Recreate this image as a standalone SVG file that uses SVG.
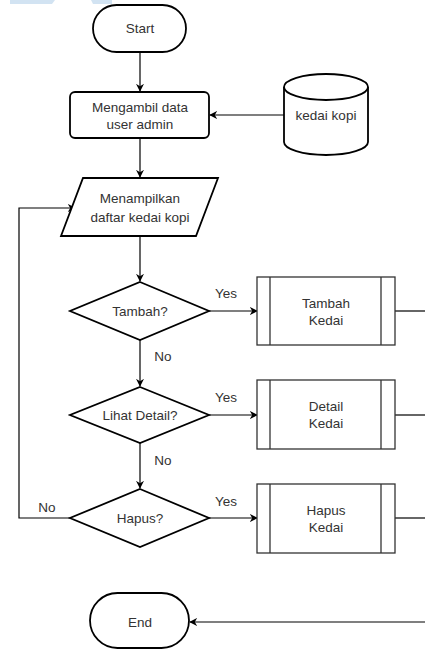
<svg xmlns="http://www.w3.org/2000/svg" width="425" height="649" viewBox="0 0 425 649">
<defs>
<style>
.sh{fill:#fff;stroke:#000;stroke-width:1.8}
.pr{fill:#fff;stroke:#333;stroke-width:1.3}
.ln{fill:none;stroke:#000;stroke-width:1.2}
text{font-family:"Liberation Sans",Arial,sans-serif;font-size:13.5px;fill:#333;text-anchor:middle}
</style>
<marker id="ah" viewBox="0 0 10 10" refX="9" refY="5" markerWidth="8" markerHeight="8" markerUnits="userSpaceOnUse" orient="auto">
<path d="M0,0 L10,5 L0,10 L3,5 Z" fill="#000"/>
</marker>
</defs>
<rect width="425" height="649" fill="#fff"/>
<g id="watermark">
<polygon points="10,0 55,0 52,4 10,4" fill="#d2e3f2"/>
<polygon points="91,0 112,0 112,4 93,4" fill="#d2e3f2"/>
</g>
<g id="connectors">
<line class="ln" x1="140" y1="52" x2="140" y2="91" marker-end="url(#ah)"/>
<line class="ln" x1="284" y1="115" x2="210" y2="115" marker-end="url(#ah)"/>
<line class="ln" x1="140" y1="138" x2="140" y2="177" marker-end="url(#ah)"/>
<line class="ln" x1="140" y1="236" x2="140" y2="281" marker-end="url(#ah)"/>
<line class="ln" x1="209" y1="311" x2="257" y2="311" marker-end="url(#ah)"/>
<line class="ln" x1="140" y1="340" x2="140" y2="386" marker-end="url(#ah)"/>
<line class="ln" x1="209" y1="415" x2="257" y2="415" marker-end="url(#ah)"/>
<line class="ln" x1="140" y1="443" x2="140" y2="488" marker-end="url(#ah)"/>
<line class="ln" x1="209" y1="518" x2="257" y2="518" marker-end="url(#ah)"/>
<polyline class="ln" points="70,518 19,518 19,208 75,208" marker-end="url(#ah)"/>
<line class="ln" x1="395" y1="311" x2="425" y2="311"/>
<line class="ln" x1="395" y1="415" x2="425" y2="415"/>
<line class="ln" x1="395" y1="518" x2="425" y2="518"/>
<line class="ln" x1="425" y1="622" x2="190" y2="622" marker-end="url(#ah)"/>
<text x="226" y="298">Yes</text>
<text x="163" y="361">No</text>
<text x="226" y="402">Yes</text>
<text x="163" y="465">No</text>
<text x="226" y="506">Yes</text>
<text x="47" y="512">No</text>
</g>
<g id="start">
<rect class="sh" x="93" y="5" width="93" height="47" rx="23.5"/>
<text x="140" y="33">Start</text>
</g>
<g id="mengambil">
<rect class="sh" x="70" y="92" width="139" height="46" rx="5"/>
<text x="140" y="112">Mengambil data</text>
<text x="140" y="129">user admin</text>
</g>
<g id="kedaikopi">
<path class="sh" d="M284,87 A42,13 0 0 1 368,87 L368,142 A42,13 0 0 1 284,142 Z"/>
<path class="sh" d="M284,87 A42,13 0 0 0 368,87" fill="none"/>
<text x="326" y="120">kedai kopi</text>
</g>
<g id="menampilkan">
<polygon class="sh" points="83,178 218,178 196,236 61,236"/>
<text x="140" y="203">Menampilkan</text>
<text x="140" y="222">daftar kedai kopi</text>
</g>
<g id="tambah">
<polygon class="sh" points="140,282 209,311 140,340 70,311"/>
<text x="140" y="316">Tambah?</text>
</g>
<g id="tambahkedai">
<rect class="pr" x="257" y="277" width="138" height="68"/>
<line class="pr" x1="270" y1="277" x2="270" y2="345"/>
<line class="pr" x1="381" y1="277" x2="381" y2="345"/>
<text x="326" y="308">Tambah</text>
<text x="326" y="325">Kedai</text>
</g>
<g id="lihatdetail">
<polygon class="sh" points="140,387 209,415 140,443 70,415"/>
<text x="140" y="420">Lihat Detail?</text>
</g>
<g id="detailkedai">
<rect class="pr" x="257" y="380" width="138" height="69"/>
<line class="pr" x1="270" y1="380" x2="270" y2="449"/>
<line class="pr" x1="381" y1="380" x2="381" y2="449"/>
<text x="326" y="411">Detail</text>
<text x="326" y="428">Kedai</text>
</g>
<g id="hapus">
<polygon class="sh" points="140,489 209,518 140,547 70,518"/>
<text x="140" y="523">Hapus?</text>
</g>
<g id="hapuskedai">
<rect class="pr" x="257" y="484" width="138" height="69"/>
<line class="pr" x1="270" y1="484" x2="270" y2="553"/>
<line class="pr" x1="381" y1="484" x2="381" y2="553"/>
<text x="326" y="515">Hapus</text>
<text x="326" y="532">Kedai</text>
</g>
<g id="end">
<rect class="sh" x="90" y="593" width="99" height="55" rx="27.5"/>
<text x="140" y="627">End</text>
</g>
</svg>
